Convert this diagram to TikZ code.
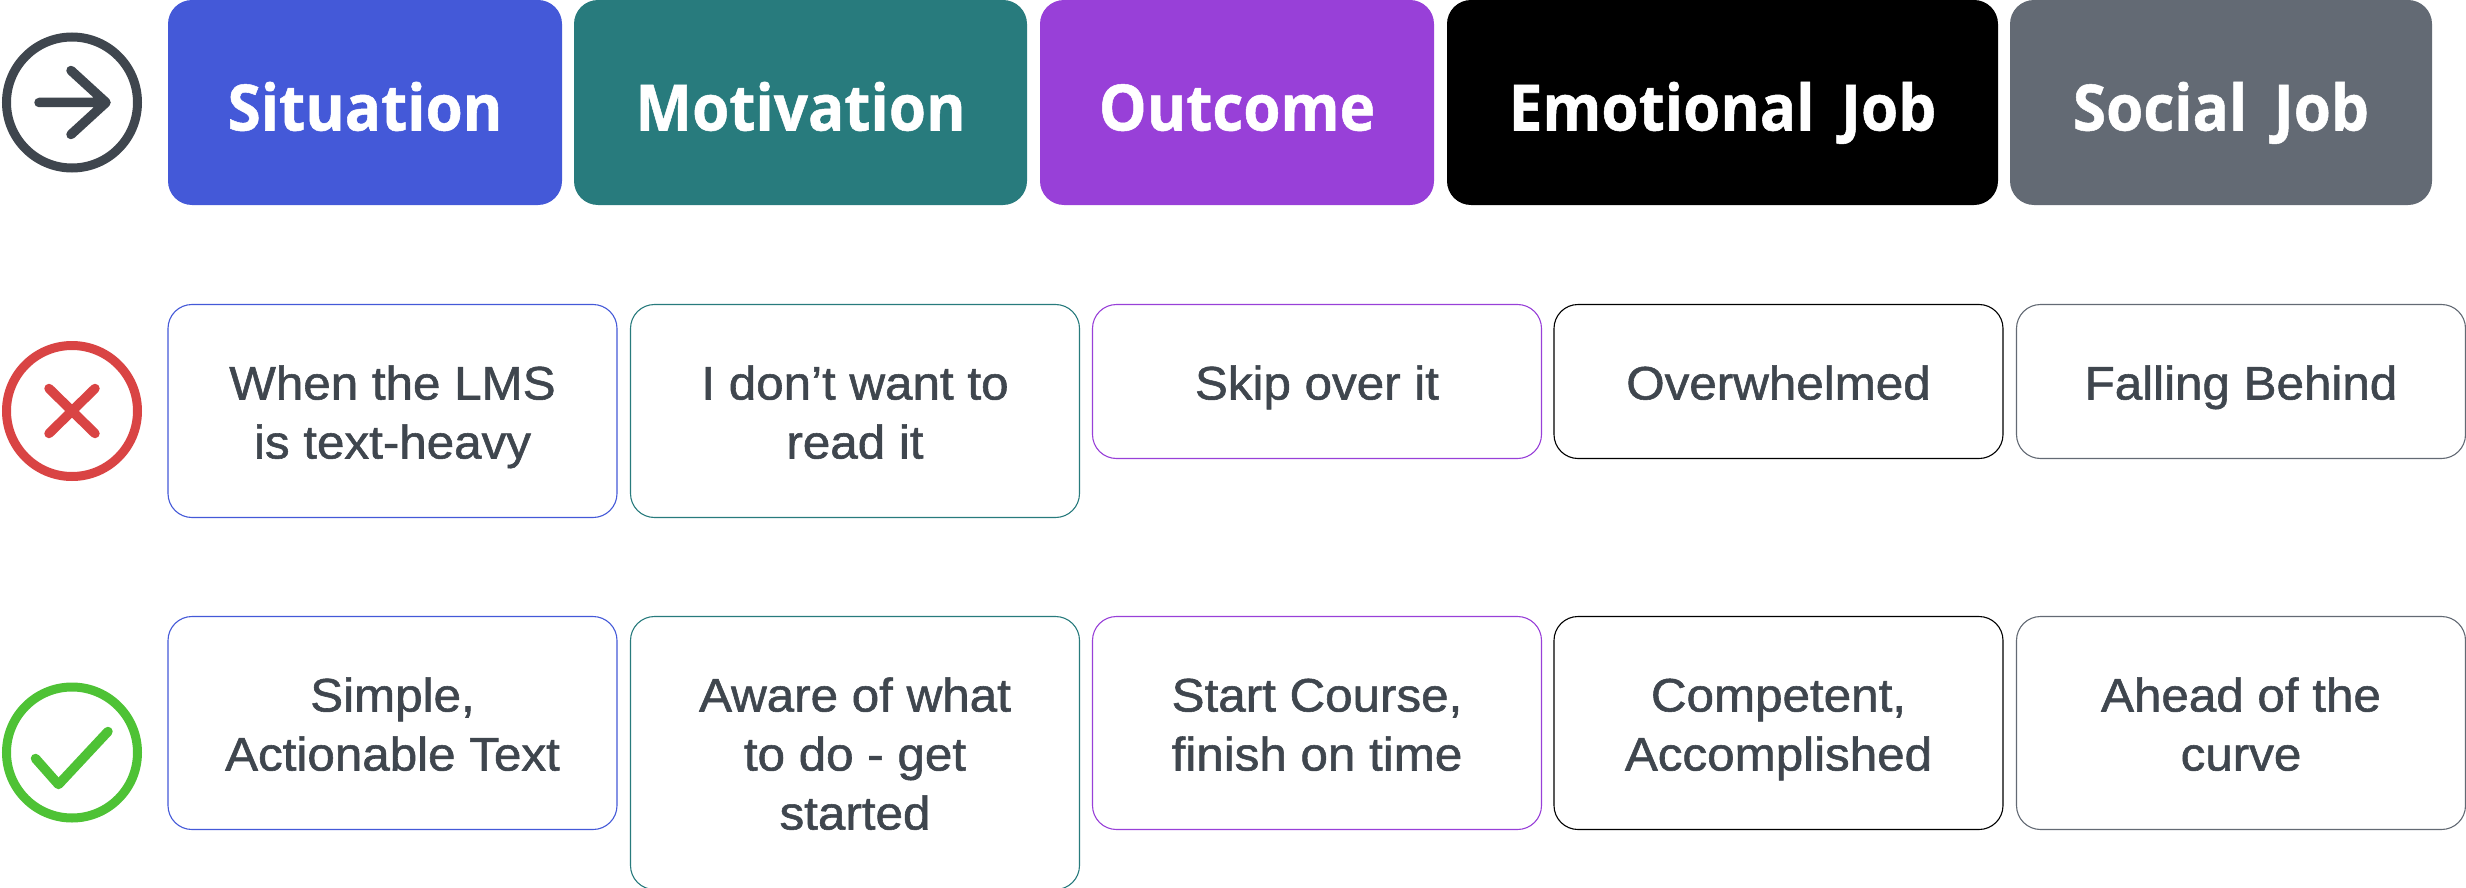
\documentclass[tikz,border=0pt]{standalone}
\usepackage{fontspec}
\setmainfont{Liberation Sans}[FakeStretch=1.05,FakeBold=1.2]
\newfontfamily\headfont{Open Sans}[BoldFont={Open Sans Bold},BoldFeatures={FakeStretch=0.94,FakeBold=0.8},WordSpace=1.7]
\definecolor{ink}{HTML}{3F464E}
\definecolor{cblue}{HTML}{4459D8}
\definecolor{cteal}{HTML}{287B7D}
\definecolor{cpurple}{HTML}{9840D8}
\definecolor{cblack}{HTML}{000000}
\definecolor{cgray}{HTML}{636A74}
\definecolor{cred}{HTML}{D94444}
\definecolor{cgreen}{HTML}{4EC235}
\tikzset{
  x=1pt,y=-1pt,
  headbox/.style={rectangle,rounded corners=24pt,inner sep=0pt,outer sep=0pt,draw=none},
  headtext/.style={anchor=base,inner sep=0pt,text=white,font=\headfont\bfseries\fontsize{64}{76}\selectfont},
  cellbox/.style={rectangle,rounded corners=24pt,inner sep=0pt,outer sep=0pt,line width=1.1pt,fill=white},
  celltext/.style={inner sep=0pt,outer sep=0pt,text=ink,align=center,font=\fontsize{47}{59}\selectfont},
  ring/.style={circle,inner sep=0pt,outer sep=0pt,minimum size=131pt,line width=9pt,draw=#1},
  glyph/.style={line width=9.5pt,line cap=round,line join=round,draw=#1},
}
\begin{document}
\begin{tikzpicture}
\useasboundingbox (0,0) rectangle (2466,888);
% header row
\node[headbox,fill=cblue,minimum width=394pt,minimum height=205pt] (h1) at (365,102.5) {};
\node[headbox,fill=cteal,minimum width=453pt,minimum height=205pt] (h2) at (800.5,102.5) {};
\node[headbox,fill=cpurple,minimum width=394pt,minimum height=205pt] (h3) at (1237,102.5) {};
\node[headbox,fill=cblack,minimum width=551pt,minimum height=205pt] (h4) at (1722.5,102.5) {};
\node[headbox,fill=cgray,minimum width=422pt,minimum height=205pt] (h5) at (2221,102.5) {};
\node[headtext] (ht1) at (365,130.5) {Situation};
\node[headtext] (ht2) at (800.5,130.5) {Motivation};
\node[headtext] (ht3) at (1237,130.5) {Outcome};
\node[headtext] (ht4) at (1722.5,130.5) {Emotional Job};
\node[headtext] (ht5) at (2221,130.5) {Social Job};
% row 2
\node[cellbox,draw=cblue,minimum width=449pt,minimum height=213pt] (a1) at (392.5,411) {};
\node[cellbox,draw=cteal,minimum width=449pt,minimum height=213pt] (a2) at (855,411) {};
\node[cellbox,draw=cpurple,minimum width=449pt,minimum height=154pt] (a3) at (1317,381.5) {};
\node[cellbox,draw=cblack,minimum width=449pt,minimum height=154pt] (a4) at (1778.5,381.5) {};
\node[cellbox,draw=cgray,minimum width=449pt,minimum height=154pt] (a5) at (2241,381.5) {};
\node[celltext] (at1) at (392.5,417.2) {\strut When the LMS\\\strut is text-heavy};
\node[celltext] (at2) at (855,417.2) {\strut I don’t want to\\\strut read it};
\node[celltext] (at3) at (1317,387.7) {\strut Skip over it};
\node[celltext] (at4) at (1778.5,387.7) {\strut Overwhelmed};
\node[celltext] (at5) at (2241,387.7) {\strut Falling Behind};
% row 3
\node[cellbox,draw=cblue,minimum width=449pt,minimum height=213pt] (b1) at (392.5,723) {};
\node[cellbox,draw=cteal,minimum width=449pt,minimum height=273pt] (b2) at (855,753) {};
\node[cellbox,draw=cpurple,minimum width=449pt,minimum height=213pt] (b3) at (1317,723) {};
\node[cellbox,draw=cblack,minimum width=449pt,minimum height=213pt] (b4) at (1778.5,723) {};
\node[cellbox,draw=cgray,minimum width=449pt,minimum height=213pt] (b5) at (2241,723) {};
\node[celltext] (bt1) at (392.5,729.2) {\strut Simple,\\\strut Actionable Text};
\node[celltext] (bt2) at (855,758.7) {\strut Aware of what\\\strut to do - get\\\strut started};
\node[celltext] (bt3) at (1317,729.2) {\strut Start Course,\\\strut finish on time};
\node[celltext] (bt4) at (1778.5,729.2) {\strut Competent,\\\strut Accomplished};
\node[celltext] (bt5) at (2241,729.2) {\strut Ahead of the\\\strut curve};
% icons
\node[ring=ink] (i1) at (72,102.5) {};
\node[ring=cred] (i2) at (72,411) {};
\node[ring=cgreen] (i3) at (72,752.5) {};
\draw[glyph=ink] (39,102.5) -- (106,102.5) (71,70.5) -- (106,102.5) -- (71,134.5);
\draw[glyph=cred] (49,388.5) -- (95,433.5) (95,388.5) -- (49,433.5);
\draw[glyph=cgreen] (35.5,758.5) -- (58.5,784.5) -- (108,731.5);
\end{tikzpicture}
\end{document}
